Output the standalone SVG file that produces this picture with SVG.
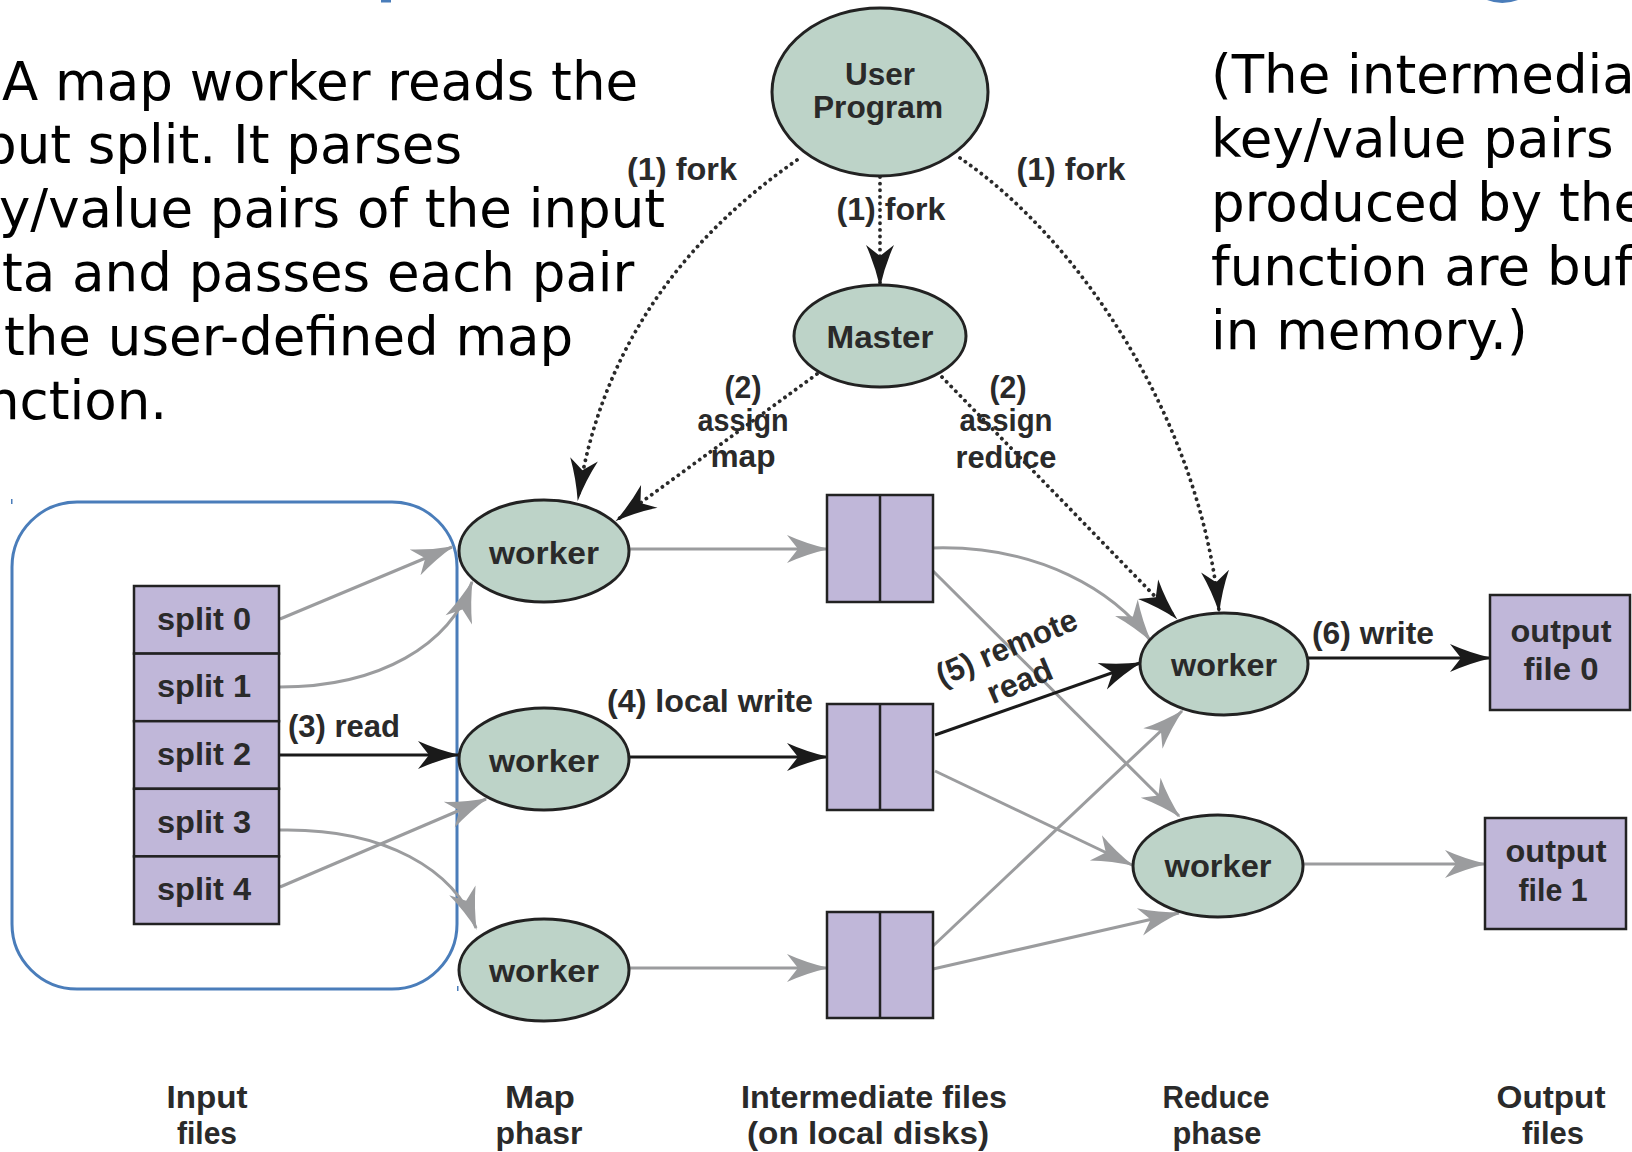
<svg xmlns="http://www.w3.org/2000/svg" width="1632" height="1152" viewBox="0 0 1632 1152">
<defs>
<style>
.para{font-family:"DejaVu Sans","Liberation Sans",sans-serif;fill:#000}
.lbl{font-family:"Liberation Sans",Arial,sans-serif;font-weight:bold;font-size:32px;fill:#2a2a2a;text-anchor:middle}
.node{fill:#bdd3c8;stroke:#222;stroke-width:3}
.file{fill:#c0b7d9;stroke:#222;stroke-width:2.5}
.div{stroke:#222;stroke-width:2.5}
.gray{fill:none;stroke:#9b9c9e;stroke-width:3}
.blk{fill:none;stroke:#1a1a1a;stroke-width:3}
.dot{fill:none;stroke:#2a2a2a;stroke-width:3.8;stroke-dasharray:0.1 6.5;stroke-linecap:round}
.blue{fill:#4a7dba}
</style>
<marker id="ak" markerUnits="userSpaceOnUse" viewBox="0 -15 42 30" markerWidth="42" markerHeight="30" refX="40" refY="0" orient="auto" overflow="visible"><path d="M42,0 Q20,-5 0,-14 L11,0 L0,14 Q20,5 42,0Z" fill="#1a1a1a"/></marker>
<marker id="ag" markerUnits="userSpaceOnUse" viewBox="0 -15 42 30" markerWidth="42" markerHeight="30" refX="40" refY="0" orient="auto" overflow="visible"><path d="M42,0 Q20,-5 0,-14 L11,0 L0,14 Q20,5 42,0Z" fill="#9b9c9e"/></marker>
</defs>
<rect width="1632" height="1152" fill="#fff"/>

<g id="title-fragments">
<rect class="blue" x="381" y="0" width="10" height="2.5"/>
<path class="blue" d="M1487,0 Q1502,6 1518,0 Z"/>
</g>

<g id="left-text" class="para" font-size="53">
<text x="2" y="100">A map worker reads the</text>
<text x="-17" y="163">put split. It parses</text>
<text x="-1" y="227">y/value pairs of the input</text>
<text x="2" y="291">ta and passes each pair</text>
<text x="4" y="355">the user-defined map</text>
<text x="-14" y="419">nction.</text>
</g>

<g id="right-text" class="para" font-size="53">
<text x="1211" y="93">(The intermedia</text>
<text x="1211" y="157">key/value pairs</text>
<text x="1211" y="221">produced by the</text>
<text x="1211" y="285">function are buf</text>
<text x="1211" y="349">in memory.)</text>
</g>

<g id="input-frame">
<rect x="12" y="502" width="445" height="487" rx="65" ry="65" fill="none" stroke="#4a7dba" stroke-width="3"/>
<rect class="blue" x="11" y="499" width="1.5" height="5"/>
<rect class="blue" x="457" y="986" width="1.5" height="5"/>
</g>

<g id="connectors">
<path class="dot" d="M797,160 Q610,290 578,499" marker-end="url(#ak)"/>
<path class="dot" d="M880,177 L880,285" marker-end="url(#ak)"/>
<path class="dot" d="M960,158 C1080,240 1200,420 1219,611" marker-end="url(#ak)"/>
<path class="dot" d="M817,374 L617,520" marker-end="url(#ak)"/>
<path class="dot" d="M942,377 L1176,618" marker-end="url(#ak)"/>
<path class="gray" d="M280,619 L452,547" marker-end="url(#ag)"/>
<path class="gray" d="M280,687 C380,687 450,645 472,582" marker-end="url(#ag)"/>
<path class="blk" d="M275,755 L458,755" marker-end="url(#ak)"/>
<path class="gray" d="M280,830 C385,828 455,870 476,928" marker-end="url(#ag)"/>
<path class="gray" d="M280,887 L486,799" marker-end="url(#ag)"/>
<path class="gray" d="M629,549 L827,549" marker-end="url(#ag)"/>
<path class="blk" d="M629,757 L827,757" marker-end="url(#ak)"/>
<path class="gray" d="M629,968 L827,968" marker-end="url(#ag)"/>
<path class="gray" d="M933,548 C1040,545 1115,592 1150,640" marker-end="url(#ag)"/>
<path class="gray" d="M933,571 L1179,816" marker-end="url(#ag)"/>
<path class="blk" d="M935,735 L1140,663" marker-end="url(#ak)"/>
<path class="gray" d="M935,771 L1132,865" marker-end="url(#ag)"/>
<path class="gray" d="M933,946 L1182,711" marker-end="url(#ag)"/>
<path class="gray" d="M933,969 L1179,913" marker-end="url(#ag)"/>
<path class="blk" d="M1308,658 L1490,658" marker-end="url(#ak)"/>
<path class="gray" d="M1303,864 L1485,864" marker-end="url(#ag)"/>
</g>

<g id="user-program">
<ellipse class="node" cx="880" cy="92" rx="108" ry="84"/>
<text class="lbl" x="880" y="85" textLength="70" lengthAdjust="spacingAndGlyphs">User</text>
<text class="lbl" x="878" y="118" textLength="130" lengthAdjust="spacingAndGlyphs">Program</text>
</g>
<g id="master">
<ellipse class="node" cx="880" cy="336" rx="86" ry="51"/>
<text class="lbl" x="880" y="348" textLength="107" lengthAdjust="spacingAndGlyphs">Master</text>
</g>
<g id="map-worker-1">
<ellipse class="node" cx="544" cy="551" rx="85" ry="51"/>
<text class="lbl" x="544" y="564" textLength="110" lengthAdjust="spacingAndGlyphs">worker</text>
</g>
<g id="map-worker-2">
<ellipse class="node" cx="544" cy="759" rx="85" ry="51"/>
<text class="lbl" x="544" y="772" textLength="110" lengthAdjust="spacingAndGlyphs">worker</text>
</g>
<g id="map-worker-3">
<ellipse class="node" cx="544" cy="970" rx="85" ry="51"/>
<text class="lbl" x="544" y="982" textLength="110" lengthAdjust="spacingAndGlyphs">worker</text>
</g>
<g id="reduce-worker-1">
<ellipse class="node" cx="1224" cy="664" rx="84" ry="51"/>
<text class="lbl" x="1224" y="676" textLength="106" lengthAdjust="spacingAndGlyphs">worker</text>
</g>
<g id="reduce-worker-2">
<ellipse class="node" cx="1218" cy="866" rx="85" ry="51"/>
<text class="lbl" x="1218" y="877" textLength="107" lengthAdjust="spacingAndGlyphs">worker</text>
</g>

<g id="input-splits">
<rect class="file" x="134" y="586" width="145" height="67.6"/>
<rect class="file" x="134" y="653.6" width="145" height="67.6"/>
<rect class="file" x="134" y="721.2" width="145" height="67.6"/>
<rect class="file" x="134" y="788.8" width="145" height="67.6"/>
<rect class="file" x="134" y="856.4" width="145" height="67.6"/>
<text class="lbl" x="204" y="630" textLength="94" lengthAdjust="spacingAndGlyphs">split 0</text>
<text class="lbl" x="204" y="697" textLength="94" lengthAdjust="spacingAndGlyphs">split 1</text>
<text class="lbl" x="204" y="765" textLength="94" lengthAdjust="spacingAndGlyphs">split 2</text>
<text class="lbl" x="204" y="833" textLength="94" lengthAdjust="spacingAndGlyphs">split 3</text>
<text class="lbl" x="204" y="900" textLength="94" lengthAdjust="spacingAndGlyphs">split 4</text>
</g>

<g id="intermediate-1">
<rect class="file" x="827" y="495" width="106" height="107"/>
<line class="div" x1="880" y1="495" x2="880" y2="602"/>
</g>
<g id="intermediate-2">
<rect class="file" x="827" y="704" width="106" height="106"/>
<line class="div" x1="880" y1="704" x2="880" y2="810"/>
</g>
<g id="intermediate-3">
<rect class="file" x="827" y="912" width="106" height="106"/>
<line class="div" x1="880" y1="912" x2="880" y2="1018"/>
</g>

<g id="output-file-0">
<rect class="file" x="1490" y="595" width="140" height="115"/>
<text class="lbl" x="1561" y="642" textLength="101" lengthAdjust="spacingAndGlyphs">output</text>
<text class="lbl" x="1561" y="680" textLength="75" lengthAdjust="spacingAndGlyphs">file 0</text>
</g>
<g id="output-file-1">
<rect class="file" x="1485" y="818" width="141" height="111"/>
<text class="lbl" x="1556" y="862" textLength="101" lengthAdjust="spacingAndGlyphs">output</text>
<text class="lbl" x="1553" y="901" textLength="69" lengthAdjust="spacingAndGlyphs">file 1</text>
</g>

<g id="connector-labels">
<text class="lbl" x="682" y="180" textLength="110" lengthAdjust="spacingAndGlyphs">(1) fork</text>
<text class="lbl" x="891" y="220" textLength="109" lengthAdjust="spacingAndGlyphs">(1) fork</text>
<text class="lbl" x="1071" y="180" textLength="109" lengthAdjust="spacingAndGlyphs">(1) fork</text>
<text class="lbl" x="743" y="398" textLength="37" lengthAdjust="spacingAndGlyphs">(2)</text>
<text class="lbl" x="743" y="431" textLength="91" lengthAdjust="spacingAndGlyphs">assign</text>
<text class="lbl" x="743" y="467" textLength="65" lengthAdjust="spacingAndGlyphs">map</text>
<text class="lbl" x="1008" y="398" textLength="37" lengthAdjust="spacingAndGlyphs">(2)</text>
<text class="lbl" x="1006" y="431" textLength="93" lengthAdjust="spacingAndGlyphs">assign</text>
<text class="lbl" x="1006" y="468" textLength="101" lengthAdjust="spacingAndGlyphs">reduce</text>
<text class="lbl" x="344" y="737" textLength="112" lengthAdjust="spacingAndGlyphs">(3) read</text>
<text class="lbl" x="710" y="712" textLength="206" lengthAdjust="spacingAndGlyphs">(4) local write</text>
<text class="lbl" x="1007" y="658" textLength="150" lengthAdjust="spacingAndGlyphs" transform="rotate(-23 1007 648)">(5) remote</text>
<text class="lbl" x="1020" y="692" textLength="68" lengthAdjust="spacingAndGlyphs" transform="rotate(-23 1020 682)">read</text>
<text class="lbl" x="1373" y="644" textLength="122" lengthAdjust="spacingAndGlyphs">(6) write</text>
</g>

<g id="phase-labels">
<text class="lbl" x="207" y="1108" textLength="81" lengthAdjust="spacingAndGlyphs">Input</text>
<text class="lbl" x="207" y="1144" textLength="60" lengthAdjust="spacingAndGlyphs">files</text>
<text class="lbl" x="540" y="1108" textLength="70" lengthAdjust="spacingAndGlyphs">Map</text>
<text class="lbl" x="539" y="1144" textLength="87" lengthAdjust="spacingAndGlyphs">phasr</text>
<text class="lbl" x="874" y="1108" textLength="266" lengthAdjust="spacingAndGlyphs">Intermediate files</text>
<text class="lbl" x="868" y="1144" textLength="242" lengthAdjust="spacingAndGlyphs">(on local disks)</text>
<text class="lbl" x="1216" y="1108" textLength="107" lengthAdjust="spacingAndGlyphs">Reduce</text>
<text class="lbl" x="1217" y="1144" textLength="89" lengthAdjust="spacingAndGlyphs">phase</text>
<text class="lbl" x="1551" y="1108" textLength="109" lengthAdjust="spacingAndGlyphs">Output</text>
<text class="lbl" x="1553" y="1144" textLength="62" lengthAdjust="spacingAndGlyphs">files</text>
</g>
</svg>
